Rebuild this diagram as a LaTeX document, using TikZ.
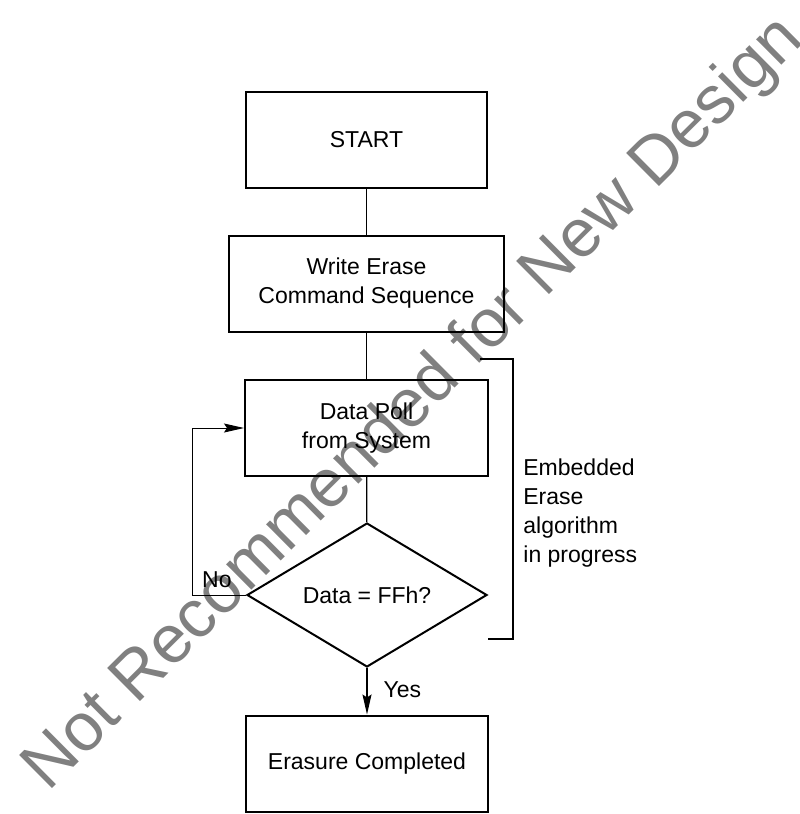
\documentclass[tikz,border=0pt]{standalone}
\usepackage{fontspec}
\setmainfont{Liberation Sans}
\usetikzlibrary{shapes.geometric,arrows.meta}
\begin{document}
\begin{tikzpicture}[x=0.5pt,y=-0.5pt,
    txt/.style={inner sep=0pt,font=\fontsize{11.5}{14.5}\selectfont},
    box/.style={txt,draw,line width=1pt,minimum width=#1,minimum height=48pt,align=center},
    check/.style={txt,draw,line width=1pt,shape=diamond,aspect=1.667,minimum width=120pt,minimum height=72pt},
    link/.style={line width=0.65pt},
    tip/.style={-{Stealth[length=10pt,width=4.5pt,inset=1.5pt]}}]
  \useasboundingbox (0,0) rectangle (799,814);
  % watermark, under everything else
  \node[anchor=base west,rotate=44.8,inner sep=0pt,text=black!50,font=\fontsize{33.9}{40}\selectfont] (mark) at (48,793) {Not Recommended for New Design};
  % flow boxes
  \node[box=120.5pt] (start) at (366.5,139.5) {START};
  \node[box=137.5pt] (write) at (366.5,283.5) {Write Erase\\Command Sequence};
  \node[box=121.5pt] (poll) at (366.5,428) {Data Poll\\from System};
  \node[check] (chk) at (367,595) {Data = FFh?};
  \node[box=121pt] (done) at (367,763.5) {Erasure Completed};
  \draw[link] (start) -- (write);
  \draw[link] (write) -- (poll);
  \draw[link] (poll) -- (chk);
  \draw[link,tip] (chk) -- (done) node[txt,midway,anchor=west,xshift=8pt,yshift=1pt]{Yes};
  \draw[line width=0.5pt,tip] (chk.west) -- ++(-27pt,0) |- (poll.west);
  \node[txt,anchor=base east] (no) at ([xshift=-7pt,yshift=4pt]chk.west) {No};
  % bracket for the embedded algorithm
  \coordinate (btop) at (480,359);
  \coordinate (bbot) at (488,639);
  \draw[line width=1.1pt] (btop) -- ++(16.5pt,0) |- (bbot);
  \node[txt,align=left,anchor=north west] (algo) at (523,458) {Embedded\\Erase\\algorithm\\in progress};
\end{tikzpicture}
\end{document}
